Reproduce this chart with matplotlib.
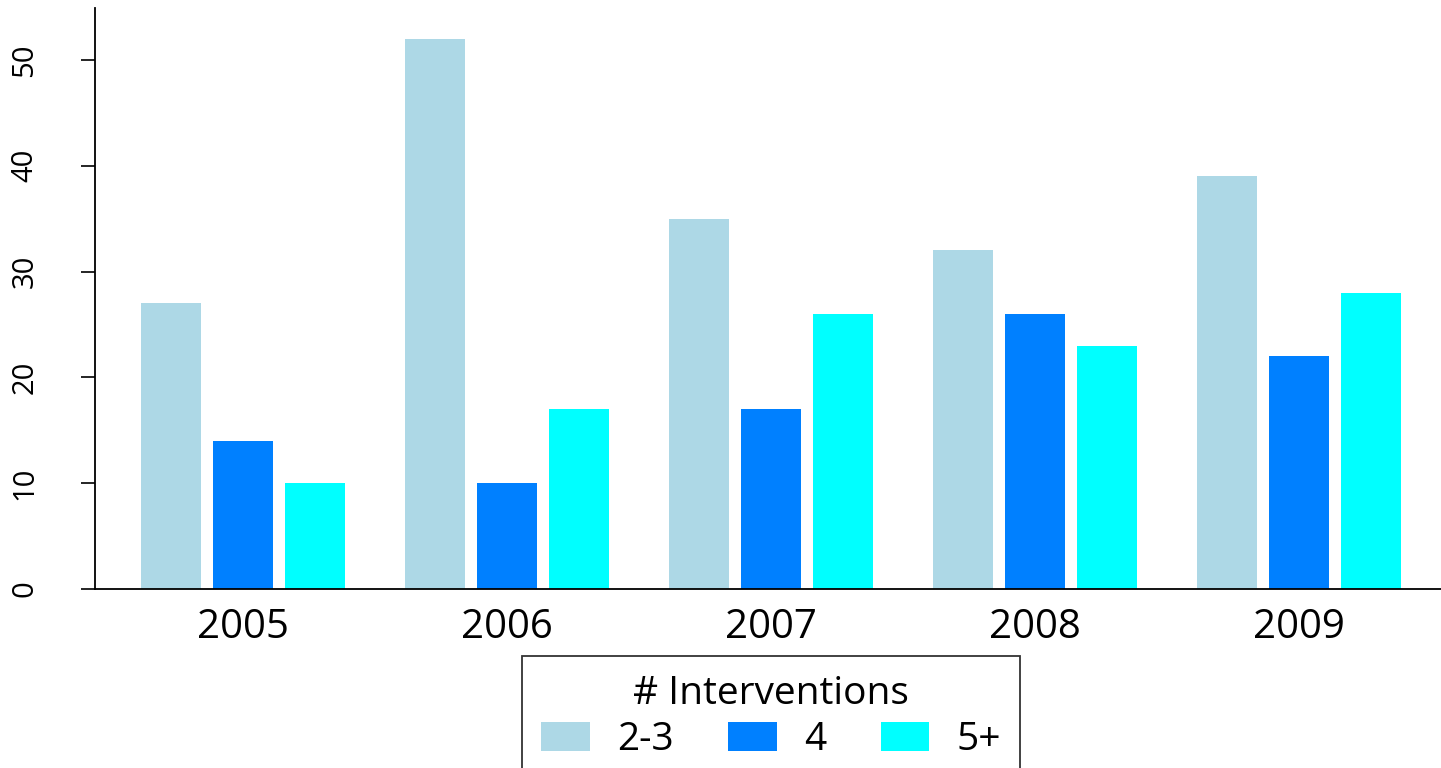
import numpy as np
import matplotlib
matplotlib.use("Agg")
import matplotlib.pyplot as plt

years = ["2005", "2006", "2007", "2008", "2009"]
groups = ["2-3", "4", "5+"]
n_23 = [27, 52, 35, 32, 39]
n_4 = [14, 10, 17, 26, 22]
n_5 = [10, 17, 26, 23, 28]
colors = ["#ADD8E6", "#0080FF", "#00FFFF"]

plt.rcParams['font.family'] = ['Open Sans', 'DejaVu Sans']

fig = plt.figure(figsize=(14.41, 7.68), dpi=100)
ax = fig.add_axes([95/1441, 1 - 589/768, 1 - 95/1441, (589 - 8)/768])

# bar width 1, gap 0.2 between bars, 1.0 between groups (like R beside=TRUE)
step = 4.4
x0 = np.arange(len(years)) * step
for k, (vals, lab) in enumerate(zip([n_23, n_4, n_5], groups)):
    ax.bar(x0 + k * 1.2, vals, width=1.0, align='edge', color=colors[k], label=lab)

ax.set_xlim(-0.767, 21.67)
ax.set_ylim(0, 54.9)
ax.set_yticks([0, 10, 20, 30, 40, 50])
ax.set_yticklabels(["0", "10", "20", "30", "40", "50"], rotation=90, va='center', fontsize=21)
ax.tick_params(axis='y', length=10, width=1.2, pad=30)
ax.set_xticks(x0 + 1.7)
ax.set_xticklabels(years, fontsize=29)
ax.tick_params(axis='x', length=0, pad=13)

for s in ['top', 'right']:
    ax.spines[s].set_visible(False)
ax.spines['left'].set_linewidth(1.3)
ax.spines['bottom'].set_linewidth(1.3)

leg = fig.legend(loc='upper center', bbox_to_anchor=(771/1441, 1 - 656/768), ncol=3,
                 title="# Interventions", fontsize=28, title_fontsize=28,
                 frameon=True, fancybox=False, edgecolor='black',
                 handlelength=1.25, handleheight=0.75, handletextpad=0.7,
                 columnspacing=1.4, borderpad=0.5, labelspacing=0.2,
                 borderaxespad=0)
leg.get_frame().set_linewidth(1.3)

fig.savefig("out.png", dpi=100)
